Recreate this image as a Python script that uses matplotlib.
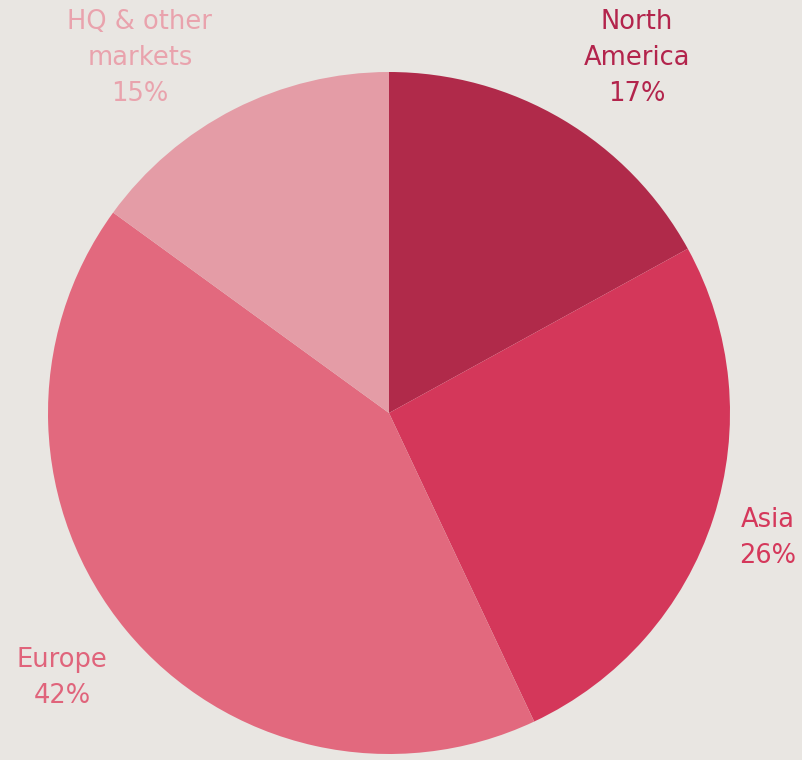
import matplotlib.pyplot as plt

# Regional split, clockwise from 12 o'clock
regions = ['North\nAmerica', 'Asia', 'Europe', 'HQ & other\nmarkets']
shares = [17, 26, 42, 15]
colors = ['#B02A4A', '#D4375A', '#E2697E', '#E49CA6']
label_colors = ['#B3244C', '#D5385B', '#E0647B', '#E9A3AD']

bg = '#E9E6E2'
fig = plt.figure(figsize=(8.03, 7.60), dpi=100, facecolor=bg)
ax = fig.add_axes([0, 0, 1, 1])
ax.set_facecolor(bg)

ax.pie(shares, colors=colors, startangle=90, counterclock=False,
       center=(389, 347), radius=341, frame=True,
       wedgeprops=dict(linewidth=0))
ax.set_xlim(0, 803)
ax.set_ylim(0, 760)
ax.set_aspect('equal')
ax.axis('off')

# label anchor points (figure pixels, y measured from the bottom)
label_pos = [(637, 702), (768, 222), (62, 82), (140, 702)]
for name, pct, col, (x, y) in zip(regions, shares, label_colors, label_pos):
    weight = 'medium' if name.startswith('North') else 'normal'
    ax.text(x, y, f'{name}\n{pct}%', color=col, fontsize=18.5,
            fontweight=weight, ha='center', va='center',
            linespacing=1.52, family='DejaVu Sans')

fig.savefig('out.png', dpi=100, facecolor=bg)
